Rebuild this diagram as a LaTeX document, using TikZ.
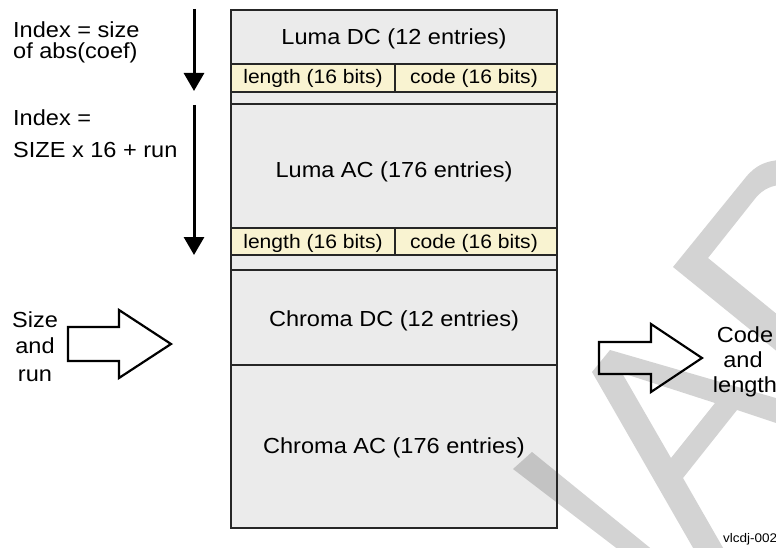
\documentclass[tikz,border=0pt]{standalone}
\usepackage{fontspec}
\setmainfont[FakeStretch=1.08]{Liberation Sans}
\usetikzlibrary{arrows.meta}
\definecolor{boxgray}{HTML}{EBEBEB}
\definecolor{stripyel}{HTML}{F9F3D1}
\definecolor{wmark}{HTML}{D3D3D3}
\definecolor{wmarkdark}{HTML}{C3C3C3}
\definecolor{edgecol}{HTML}{262626}
\newcommand{\wmshapes}{%
  (592,372) -- (610,350) -- (800,405) -- (800,431) -- (737,410) -- (683,478) -- (730,560) -- (700,560) -- cycle
  (622,373) -- (715,403) -- (671,458) -- cycle
  (513,469) -- (532,452) -- (665,560) -- (632,560) -- cycle
  (673,267) -- (746,177) .. controls (756,165) and (766,161) .. (780,160) -- (800,160) -- (800,370) -- cycle
  (708,258) -- (754,200) .. controls (760,192) and (768,186) .. (780,185) -- (800,185) -- (800,333) -- cycle}
\begin{document}
\begin{tikzpicture}[x=1pt,y=-1pt,
  lbl/.style={font=\fontsize{21.8}{26}\selectfont, inner sep=0pt, anchor=base, text=black},
  lblw/.style={lbl, anchor=base west},
  slbl/.style={font=\fontsize{19.5}{23}\selectfont, inner sep=0pt, anchor=base, text=black},
  tinylbl/.style={font=\fontsize{12.5}{15}\selectfont, inner sep=0pt, anchor=base west},
  secline/.style={draw=edgecol, line width=2pt},
  stripbox/.style={draw=edgecol, line width=1.2pt, fill=stripyel},
  downarr/.style={line width=3pt, black, -{Triangle[width=20pt,length=18pt]}},
  hollow/.style={draw=black, line width=2.2pt, line join=miter}]
\useasboundingbox (0,0) rectangle (776,548);
% watermark on white
\begin{scope}
  \clip (0,0) rectangle (776,548);
  \fill[wmark, even odd rule] \wmshapes;
\end{scope}
% table body
\fill[boxgray] (231,10) rectangle (557,528);
\begin{scope}
  \clip (231,10) rectangle (557,528);
  \fill[wmarkdark, even odd rule] \wmshapes;
\end{scope}
\draw[stripbox] (231,64) rectangle (557,92);
\draw[edgecol, line width=1.2pt] (395,64) -- (395,92);
\draw[stripbox] (231,228) rectangle (557,255);
\draw[edgecol, line width=1.2pt] (395,228) -- (395,255);
\draw[secline] (231,104) -- (557,104);
\draw[secline] (231,270) -- (557,270);
\draw[secline] (231,365) -- (557,365);
\draw[draw=edgecol, line width=2pt] (231,10) rectangle (557,528);
% labels in the table
\node[lbl] (ldc) at (394,45) {Luma DC (12 entries)};
\node[slbl] (s1l) at (313,84) {length (16 bits)};
\node[slbl] (s1c) at (474,84) {code (16 bits)};
\node[lbl] (lac) at (394,178) {Luma AC (176 entries)};
\node[slbl] (s2l) at (313,248) {length (16 bits)};
\node[slbl] (s2c) at (474,248) {code (16 bits)};
\node[lbl] (cdc) at (394,326) {Chroma DC (12 entries)};
\node[lbl] (cac) at (394,453) {Chroma AC (176 entries)};
% left texts
\node[lblw] (i1a) at (13,38) {Index = size};
\node[lblw] (i1b) at (13,59) {of abs(coef)};
\node[lblw] (i2a) at (13,126) {Index =};
\node[lblw] (i2b) at (13,158) {SIZE x 16 + run};
\node[lbl] (sz1) at (35,327) {Size};
\node[lbl] (sz2) at (35,353) {and};
\node[lbl] (sz3) at (35,381) {run};
% right texts
\node[lbl] (cd1) at (745,342) {Code};
\node[lbl] (cd2) at (743,367) {and};
\node[lbl] (cd3) at (745,392) {length};
\node[tinylbl] (fig) at (723,542) {vlcdj-002};
% down arrows
\coordinate (d1s) at (194,9);
\coordinate (d1e) at (194,91);
\coordinate (d2s) at (194,105);
\coordinate (d2e) at (194,255);
\draw[downarr] (d1s) -- (d1e);
\draw[downarr] (d2s) -- (d2e);
% hollow block arrows
\draw[hollow] (68,327) -- (119,327) -- (119,310) -- (171,344) -- (119,378) -- (119,361) -- (68,361) -- cycle;
\draw[hollow] (599,342) -- (651,342) -- (651,324) -- (702,358) -- (651,392) -- (651,374) -- (599,374) -- cycle;
\end{tikzpicture}
\end{document}
